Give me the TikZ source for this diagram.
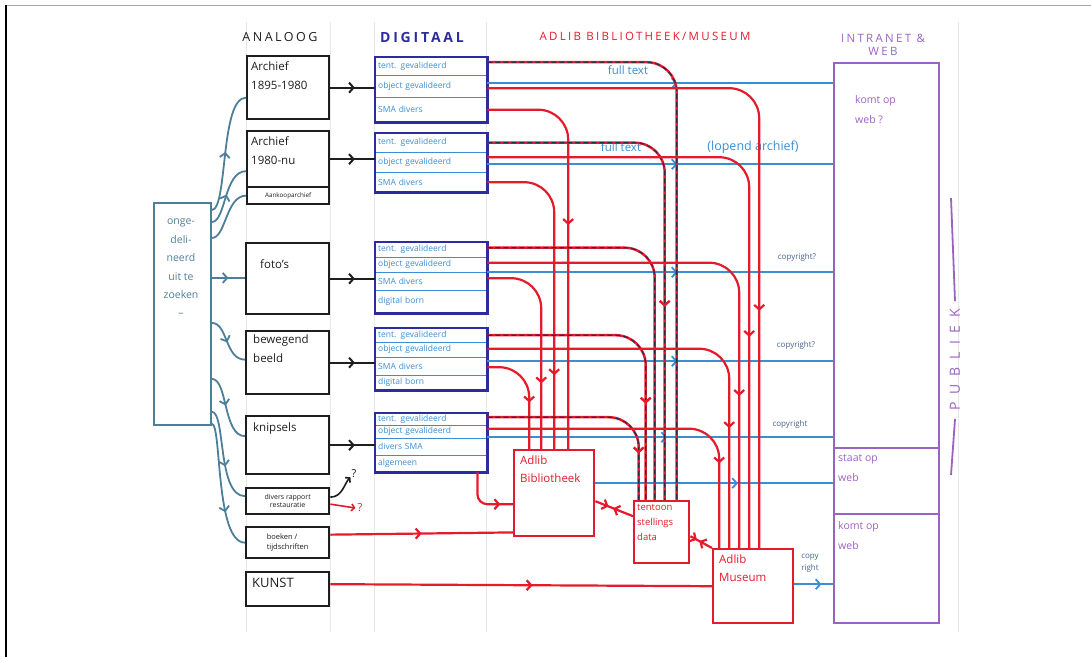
\documentclass[tikz,border=0pt]{standalone}
\usepackage{fontspec}
\setmainfont{Open Sans}
\newfontfamily\hdr[LetterSpace=20]{Open Sans}
\newfontfamily\wide[LetterSpace=55]{Open Sans}
\usetikzlibrary{arrows.meta,decorations.markings}
\definecolor{ink}{HTML}{1E1E1E}
\definecolor{lbg}{HTML}{4E7F99}
\definecolor{dblue}{HTML}{2C2C9C}
\definecolor{lblue}{HTML}{3B8ED3}
\definecolor{rd}{HTML}{E31B2B}
\definecolor{purp}{HTML}{9C62C2}
\definecolor{ddash}{HTML}{2B2B4A}
\definecolor{cpr}{HTML}{45648A}
\tikzset{
 ma/.style={postaction={decorate,decoration={markings,mark=at position #1 with {\arrow{Straight Barb[length=4.5pt,width=10pt]}}}}},
 mar/.style={postaction={decorate,decoration={markings,mark=at position #1 with {\arrow{Straight Barb[length=4.5pt,width=10pt,reversed]}}}}},
 abox/.style={draw=ink,line width=2.3pt,anchor=north west,inner sep=0pt},
 atext/.style={text=ink,anchor=north west,inner sep=0pt,align=left,font=\fontsize{11.5}{19}\selectfont},
 drow/.style={anchor=north west,minimum width=112pt,inner xsep=3pt,inner ysep=0pt,text width=106pt,align=left,text=lblue,font=\fontsize{8.5}{9}\selectfont},
 dbox/.style={draw=dblue,line width=2.6pt},
 ddiv/.style={draw=lblue,line width=1.6pt},
 rbox/.style={draw=rd,line width=2.4pt,anchor=north west,inner sep=0pt},
 rtext/.style={text=rd,anchor=north west,inner sep=0pt,align=left,font=\fontsize{11.5}{18}\selectfont},
 wbox/.style={draw=purp,line width=2pt,anchor=north west,inner sep=0pt,minimum width=105pt},
 wtext/.style={text=purp,anchor=north west,inner sep=0pt,align=left,font=\fontsize{10.5}{20}\selectfont},
 gline/.style={draw=lbg,line width=1.8pt},
 kline/.style={draw=ink,line width=2pt},
 bline/.style={draw=lblue,line width=1.8pt},
 rline/.style={draw=rd,line width=2.2pt,rounded corners=30pt},
 tline/.style={draw=rd,line width=2.5pt,rounded corners=30pt,postaction={draw=ddash,line width=1.1pt,dash pattern=on 5pt off 3pt}},
 rl/.style={draw=rd,line width=2.2pt},
 lab/.style={inner sep=0pt},
 faint/.style={draw=black!9,line width=0.6pt},
}
\begin{document}
\begin{tikzpicture}[x=1pt,y=-1pt]
\useasboundingbox (0,0) rectangle (1091,657);
% frame
\draw[black!35,line width=1pt] (6,5) -- (1091,5);
\draw[black,line width=1.5pt] (6,5) -- (6,657);
% faint paper lines
\foreach \xx in {246,330,374,486,958} \draw[faint] (\xx,22) -- (\xx,632);

% headers
\node[lab,text=ink,font=\hdr\fontsize{12.5}{14}\selectfont] (hana) at (280,37) {ANALOOG};
\node[lab,text=dblue,font=\hdr\bfseries\fontsize{14}{16}\selectfont] (hdig) at (422,37) {DIGITAAL};
\node[lab,text=rd,font=\hdr\fontsize{11.5}{14}\selectfont] (hadl) at (645,36) {ADLIB BIBLIOTHEEK/MUSEUM};
\node[lab,text=purp,align=center,font=\hdr\fontsize{11.5}{13}\selectfont] (hweb) at (883,45) {INTRANET \&\\WEB};

% left box
\node[draw=lbg,line width=1.8pt,anchor=north west,inner sep=0pt,minimum width=57pt,minimum height=222pt] (lb) at (153,202) {};
\node[lab,text=lbg,align=center,anchor=north,font=\fontsize{10.5}{18.4}\selectfont] (lbt) at (181,219) {onge-\\deli-\\neerd\\uit te\\zoeken\\--};

% analog boxes
\node[abox,minimum width=82pt,minimum height=63pt] (arch1) at (246,55) {};
\node[atext] (arch1t) at (251,61) {Archief\\1895-1980};
\node[abox,minimum width=82pt,minimum height=56pt] (arch2) at (246,130) {};
\node[atext] (arch2t) at (251,136) {Archief\\1980-nu};
\node[abox,minimum width=82pt,minimum height=17pt,font=\fontsize{6.3}{7}\selectfont,text=ink] (aank) at (246,186) {Aankooparchief};
\node[abox,minimum width=83pt,minimum height=71pt] (foto) at (245,242) {};
\node[atext] (fotot) at (260,259) {foto's};
\node[abox,minimum width=83pt,minimum height=63pt] (bew) at (245,330) {};
\node[atext] (bewt) at (253,335) {bewegend\\beeld};
\node[abox,minimum width=83pt,minimum height=58pt] (knip) at (245,415) {};
\node[atext] (knipt) at (253,423) {knipsels};
\node[abox,minimum width=83pt,minimum height=26pt,align=center,text=ink,font=\fontsize{7}{8}\selectfont] (div) at (245,487) {divers rapport\\restauratie};
\node[abox,minimum width=83pt,minimum height=31pt,align=left,text=ink,font=\fontsize{7.5}{9.5}\selectfont] (boek) at (245,526) {boeken /\\tijdschriften};
\node[abox,minimum width=83pt,minimum height=34pt] (kunst) at (245,571) {};
\node[atext,font=\fontsize{13}{14}\selectfont] (kunstt) at (252,578) {KUNST};

% digital boxes
\node[drow,minimum height=18pt] (d1a) at (375,57) {tent. gevalideerd};
\node[drow,minimum height=22pt] (d1b) at (375,75) {object gevalideerd};
\node[drow,minimum height=25pt] (d1c) at (375,97) {SMA divers};
\draw[ddiv] (d1a.south west) -- (d1a.south east) (d1b.south west) -- (d1b.south east);
\draw[dbox] (d1a.north west) rectangle (d1c.south east);

\node[drow,minimum height=19pt] (d2a) at (375,133) {tent. gevalideerd};
\node[drow,minimum height=20pt] (d2b) at (375,152) {object gevalideerd};
\node[drow,minimum height=20pt] (d2c) at (375,172) {SMA divers};
\draw[ddiv] (d2a.south west) -- (d2a.south east) (d2b.south west) -- (d2b.south east);
\draw[dbox] (d2a.north west) rectangle (d2c.south east);

\node[drow,minimum height=15pt] (d3a) at (375,242) {tent. gevalideerd};
\node[drow,minimum height=15pt] (d3b) at (375,257) {object gevalideerd};
\node[drow,minimum height=18pt] (d3c) at (375,272) {SMA divers};
\node[drow,minimum height=23pt] (d3d) at (375,290) {digital born};
\draw[ddiv] (d3a.south west) -- (d3a.south east) (d3b.south west) -- (d3b.south east) (d3c.south west) -- (d3c.south east);
\draw[dbox] (d3a.north west) rectangle (d3d.south east);

\node[drow,minimum height=14pt] (d4a) at (375,328) {tent. gevalideerd};
\node[drow,minimum height=15pt] (d4b) at (375,342) {object gevalideerd};
\node[drow,minimum height=18pt] (d4c) at (375,357) {SMA divers};
\node[drow,minimum height=15pt] (d4d) at (375,375) {digital born};
\draw[ddiv] (d4a.south west) -- (d4a.south east) (d4b.south west) -- (d4b.south east) (d4c.south west) -- (d4c.south east);
\draw[dbox] (d4a.north west) rectangle (d4d.south east);

\node[drow,minimum height=12pt] (d5a) at (375,413) {tent. gevalideerd};
\node[drow,minimum height=13pt] (d5b) at (375,425) {object gevalideerd};
\node[drow,minimum height=17pt] (d5c) at (375,438) {divers SMA};
\node[drow,minimum height=17pt] (d5d) at (375,455) {algemeen};
\draw[ddiv] (d5a.south west) -- (d5a.south east) (d5b.south west) -- (d5b.south east) (d5c.south west) -- (d5c.south east);
\draw[dbox] (d5a.north west) rectangle (d5d.south east);

% adlib boxes
\node[rbox,minimum width=80pt,minimum height=86pt] (bib) at (513,449) {};
\node[rtext] (bibt) at (520,456) {Adlib\\Bibliotheek};
\node[rbox,minimum width=55pt,minimum height=62pt] (tent) at (633,500) {};
\node[rtext,font=\fontsize{9.5}{15}\selectfont] (tentt) at (637,504) {tentoon\\stellings\\data};
\node[rbox,minimum width=80pt,minimum height=74pt] (mus) at (712,548) {};
\node[rtext] (must) at (719,555) {Adlib\\Museum};

% intranet & web
\node[wbox,minimum height=385pt] (web1) at (833,62) {};
\node[wbox,minimum height=66pt] (web2) at (833,447) {};
\node[wbox,minimum height=109pt] (web3) at (833,513) {};
\node[wtext] (web1t) at (855,95) {komt op\\web ?};
\node[wtext] (web2t) at (838,454) {staat op\\web};
\node[wtext] (web3t) at (838,521) {komt op\\web};
\node[lab,text=purp,rotate=90,font=\wide\fontsize{14}{16}\selectfont] (pub) at (955,360) {PUBLIEK};
\coordinate (pubA) at (951,198);
\coordinate (pubB) at (951,475);
\draw[draw=purp,line width=1.8pt] (pubA) -- ([yshift=8pt]pub.east);
\draw[draw=purp,line width=1.8pt] ([yshift=-8pt]pub.west) -- (pubB);

% left grey-blue connectors
\draw[gline,ma=0.5] ([yshift=-8pt]lb.north east) .. controls +(16,0) and +(-26,0) .. ([yshift=-10pt]arch1.west);
\draw[gline,ma=0.5] ([yshift=-20pt]lb.north east) .. controls +(14,0) and +(-22,0) .. ([yshift=-12pt]arch2.west);
\draw[gline] ([yshift=-36pt]lb.north east) .. controls +(14,0) and +(-20,0) .. (aank.west);
\draw[gline,ma=0.5] ([yshift=36pt]lb.east) -- ([yshift=36pt]lb.east -| foto.west);
\draw[gline,ma=0.5] ([yshift=-9pt]lb.east) .. controls +(16,0) and +(-20,0) .. ([yshift=3pt]bew.west);
\draw[gline,ma=0.45] ([yshift=-65pt]lb.east) .. controls +(16,0) and +(-22,0) .. ([yshift=9pt]knip.west);
\draw[gline,ma=0.6] ([yshift=14pt]lb.south east) .. controls +(14,0) and +(-28,0) .. ([yshift=5pt]div.west);
\draw[gline,ma=0.7] ([yshift=2pt]lb.south east) .. controls +(10,0) and +(-30,0) .. (boek.west);

% analog -> digital
\draw[kline,ma=0.55] (arch1.east) -- (arch1.east -| d1b.west);
\draw[kline,ma=0.55] (arch2.east) -- (arch2.east -| d2b.west);
\draw[kline,ma=0.55] (foto.east) -- (foto.east -| d3c.west);
\draw[kline,ma=0.55] (bew.east) -- (bew.east -| d4c.west);
\draw[kline,ma=0.55] (knip.east) -- (knip.east -| d5c.west);

% divers rapport question marks
\node[lab,text=ink,font=\fontsize{11}{12}\selectfont] (q1) at (354,474) {?};
\node[lab,text=rd,font=\fontsize{11}{12}\selectfont] (q2) at (360,508) {?};
\draw[kline,line width=1.6pt,-{Straight Barb[length=3pt,width=7pt]}] ([yshift=4pt]div.east) .. controls +(12,0) and +(-6,6) .. ([xshift=-1pt,yshift=1pt]q1.south west);
\draw[rl,line width=1.6pt,-{Straight Barb[length=3pt,width=7pt]}] ([yshift=-3pt]div.east) -- ([xshift=-2pt]q2.west);

% blue lines to web
\draw[bline,ma=0.55] ([yshift=3pt]d1b.east) -- ([yshift=3pt]d1b.east -| web1.west);
\draw[bline,ma=0.55] ([yshift=-2pt]d2b.east) -- ([yshift=-2pt]d2b.east -| web1.west);
\draw[bline,ma=0.55] ([yshift=9pt]d3c.east) -- ([yshift=9pt]d3c.east -| web1.west);
\draw[bline,ma=0.55] ([yshift=5pt]d4c.east) -- ([yshift=5pt]d4c.east -| web1.west);
\draw[bline,ma=0.52] ([yshift=-5.5pt]d5b.east) -- ([yshift=-5.5pt]d5b.east -| web1.west);
\draw[bline,ma=0.6] ([yshift=10pt]bib.east) -- ([yshift=10pt]bib.east -| web2.west);
\draw[bline,ma=0.7] ([yshift=2pt]mus.east) -- ([yshift=2pt]mus.east -| web3.west);

% labels on blue lines
\node[lab,text=lblue,font=\fontsize{11.5}{12}\selectfont] (ft1) at (628,70) {full text};
\node[lab,text=lblue,font=\fontsize{11.5}{12}\selectfont] (ft2) at (621,147) {full text};
\node[lab,text=lblue,font=\fontsize{12.5}{13}\selectfont] (lop) at (753,147) {(lopend archief)};
\node[lab,text=cpr,font=\fontsize{8}{9}\selectfont] (cp1) at (797,257) {copyright?};
\node[lab,text=cpr,font=\fontsize{8}{9}\selectfont] (cp2) at (796,345) {copyright?};
\node[lab,text=cpr,font=\fontsize{8}{9}\selectfont] (cp3) at (790,424) {copyright};
\node[lab,text=cpr,align=center,font=\fontsize{8}{12}\selectfont] (cp4) at (810,563) {copy\\right};

% red: box 1
\draw[tline] ([yshift=4pt]d1a.east) -| ([xshift=15pt]tent.north);
\draw[rline,ma=0.67] ([yshift=-2pt]d1b.east) -| ([xshift=6pt]mus.north);
\draw[rline,ma=0.45] (d1c.east) -| ([xshift=14pt]bib.north);
% box 2
\draw[tline,ma=0.63] (d2a.east) -| ([xshift=3pt]tent.north);
\draw[rline,ma=0.67] ([yshift=5pt]d2b.east) -| ([xshift=-4pt]mus.north);
\draw[rline,ma=0.77] (d2c.east) -| (bib.north);
% box 3
\draw[tline] ([yshift=2pt]d3a.east) -| ([xshift=-7pt]tent.north);
\draw[rline,ma=0.71] ([yshift=2pt]d3b.east) -| ([xshift=-14pt]mus.north);
\draw[rline,ma=0.69] ([yshift=3pt]d3c.east) -| ([xshift=-13pt]bib.north);
% box 4
\draw[tline,ma=0.69] (d4a.east) -| ([xshift=-16pt]tent.north);
\draw[rline,ma=0.72] ([yshift=1pt]d4b.east) -| ([xshift=-24pt]mus.north);
\draw[rline,ma=0.58] ([yshift=-1pt]d4c.east) -| ([xshift=-25pt]bib.north);
% box 5
\draw[tline,ma=0.79] ([yshift=2pt]d5a.east) -| ([xshift=-23pt]tent.north);
\draw[rline,ma=0.75] ([yshift=3pt]d5b.east) -| ([xshift=-34pt]mus.north);
\draw[rline,rounded corners=10pt,ma=0.8] ([xshift=-10pt]d5d.south east) |- ([yshift=-11pt]bib.west);

% other red
\draw[rl,ma=0.5] ([yshift=8pt]boek.east) -- ([yshift=5pt]bib.south west);
\draw[rl,ma=0.53] ([yshift=5pt]kunst.east) -- (mus.west);
\draw[rl,ma=0.35,mar=0.65] ([yshift=-8pt]bib.east) -- ([yshift=16pt]tent.west);
\draw[rl,ma=0.3,mar=0.7] ([yshift=-4pt]tent.east) -- (mus.north west);
\end{tikzpicture}
\end{document}
